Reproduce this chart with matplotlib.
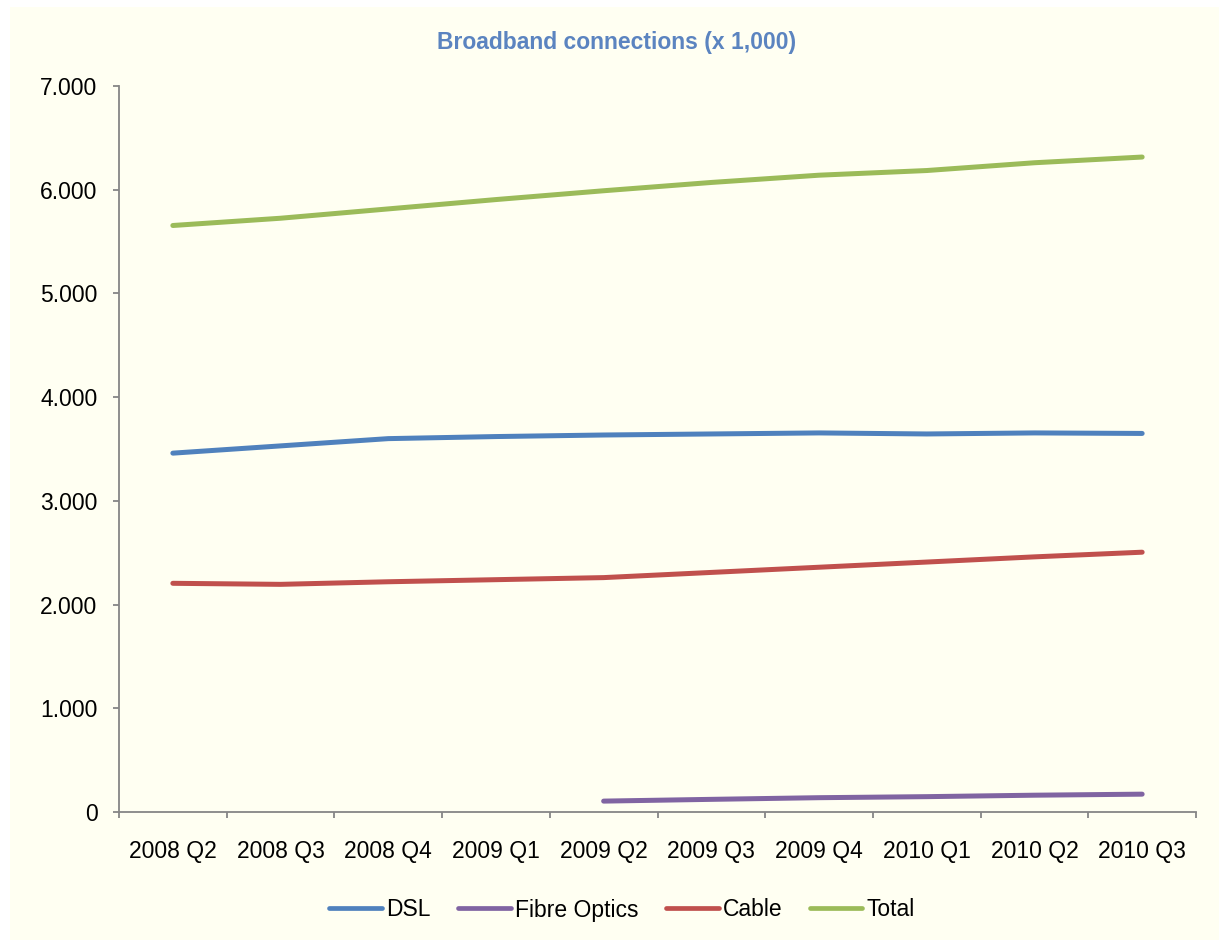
import matplotlib
matplotlib.use("Agg")
import matplotlib.pyplot as plt
from matplotlib.ticker import FuncFormatter, FixedLocator
from matplotlib.patches import Rectangle
import numpy as np

plt.rcParams['font.family'] = ['Liberation Sans', 'DejaVu Sans']

categories = ["2008 Q2", "2008 Q3", "2008 Q4", "2009 Q1", "2009 Q2",
              "2009 Q3", "2009 Q4", "2010 Q1", "2010 Q2", "2010 Q3"]
dsl = [3460, 3530, 3600, 3620, 3635, 3645, 3655, 3645, 3655, 3650]
fibre = [None, None, None, None, 105, 122, 138, 148, 162, 172]
cable = [2205, 2195, 2220, 2240, 2260, 2310, 2360, 2410, 2460, 2505]
total = [5655, 5725, 5815, 5905, 5990, 6070, 6140, 6185, 6260, 6315]

series = [("DSL", dsl, "#4F81BD"),
          ("Fibre Optics", fibre, "#8064A2"),
          ("Cable", cable, "#C0504D"),
          ("Total", total, "#9BBB59")]

W, H = 1219, 940
fig = plt.figure(figsize=(W / 100, H / 100), dpi=100)
fig.patch.set_facecolor("white")
bg = "#FFFFF2"
fig.add_artist(Rectangle((10 / W, 0), 1 - 10 / W, 1 - 7 / H, transform=fig.transFigure,
                         facecolor=bg, edgecolor="none", zorder=-10))

ax = fig.add_axes([119 / W, 1 - 812 / H, (1196 - 119) / W, (812 - 86) / H])
ax.set_facecolor(bg)

x = np.arange(len(categories))
for name, vals, col in series:
    y = np.array([np.nan if v is None else v for v in vals], dtype=float)
    ax.plot(x, y, color=col, lw=3.6, label=name, solid_capstyle="round",
            solid_joinstyle="round")

ax.set_xlim(-0.5, len(categories) - 0.5)
ax.set_ylim(0, 7000)
ax.set_yticks(np.arange(0, 7001, 1000))
ax.yaxis.set_major_formatter(FuncFormatter(lambda v, p: f"{int(v):,}".replace(",", ".")))

ax.xaxis.set_major_locator(FixedLocator(np.arange(-0.5, len(categories), 1.0)))
ax.xaxis.set_major_formatter(FuncFormatter(lambda v, p: ""))
ax.xaxis.set_minor_locator(FixedLocator(x))
ax.set_xticks(x, categories, minor=True)

spine_col = "#868686"
for s in ["top", "right"]:
    ax.spines[s].set_visible(False)
for s in ["left", "bottom"]:
    ax.spines[s].set_color(spine_col)
    ax.spines[s].set_linewidth(1.3)

fs = 16.5
ax.tick_params(axis="y", which="major", direction="out", length=4.5, width=1.3,
               color=spine_col, labelsize=fs, pad=11, labelcolor="black")
ax.tick_params(axis="x", which="major", direction="out", length=4.5, width=1.3,
               color=spine_col)
ax.tick_params(axis="x", which="minor", length=0, labelsize=fs, pad=20,
               labelcolor="black")

fig.text(617 / W, 1 - 42 / H, "Broadband connections (x 1,000)", ha="center",
         va="center", fontsize=16.5, fontweight="bold", color="#5B84C0")

leg = fig.legend(loc="center", bbox_to_anchor=(622 / W, 1 - 910 / H), ncol=4,
                 frameon=False, fontsize=fs, handlelength=2.3, handletextpad=0.18,
                 columnspacing=1.2)
for l in leg.get_lines():
    l.set_linewidth(3.4)

fig.savefig("out.png", dpi=100, facecolor=fig.get_facecolor())
